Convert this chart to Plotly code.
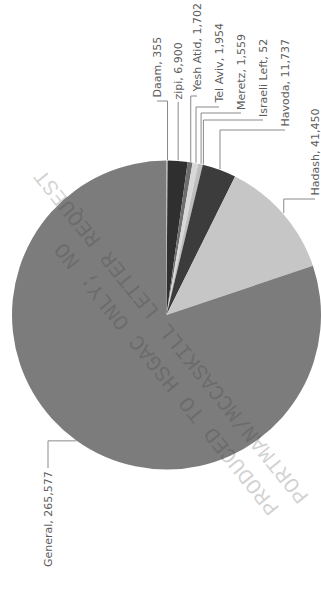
import math
import plotly.graph_objects as go

# ---- data ----
LABELS = ["Daam", "zipi", "Yesh Atid", "Tel Aviv", "Meretz", "Israeli Left",
          "Havoda", "Hadash", "General"]
VALUES = [355, 6900, 1702, 1954, 1559, 52, 11737, 41450, 265577]
VALUE_TEXT = ["355", "6,900", "1,702", "1,954", "1,559", "52", "11,737", "41,450", "265,577"]

# ---- styling / layout (pixels) ----
COLORS = ["#eeeeee", "#2f2f2f", "#6e6e6e", "#d8d8d8", "#bebebe", "#555555",
          "#3c3c3c", "#c6c6c6", "#7c7c7c"]
W, H = 321, 603
CX, CY, R = 167, 315, 155
# column x of each rotated label and y where its text begins (leader end)
LABEL_X = [157, 178, 197, 219, 241, 263, 285, 315, 48]
LABEL_Y = [101, 102, 96, 107, 113, 120, 130, 199, 468]
ELBOW = [None] * 8 + ["h"]

def px(x, y):
    return x / W, 1 - y / H

fig = go.Figure()
fig.add_trace(go.Pie(
    labels=LABELS, values=VALUES, sort=False, direction="clockwise", rotation=0,
    marker=dict(colors=COLORS, line=dict(width=0)),
    textinfo="none", hoverinfo="label+value", showlegend=False,
    domain=dict(x=[(CX - R) / W, min(1, (CX + R) / W)],
                y=[(H - CY - R) / H, (H - CY + R) / H]),
))

total = sum(VALUES)
shapes, annotations = [], []
cum = 0.0
line_style = dict(color="#8a8a8a", width=1)
for i, (lab, v) in enumerate(zip(LABELS, VALUES)):
    mid = (cum + v / 2) / total * 2 * math.pi
    cum += v
    ex = CX + R * math.sin(mid)
    ey = CY - R * math.cos(mid)
    lx, ly = LABEL_X[i], LABEL_Y[i]
    if ELBOW[i] == "h":
        pts = [(ex, ey), (lx, ey), (lx, ly)]
        yanchor = "top"
    else:
        pts = [(ex, ey), (ex, ly), (lx, ly)]
        yanchor = "bottom"
    for (x0, y0), (x1, y1) in zip(pts[:-1], pts[1:]):
        a0, b0 = px(x0, y0)
        a1, b1 = px(x1, y1)
        shapes.append(dict(type="line", xref="paper", yref="paper",
                           x0=a0, y0=b0, x1=a1, y1=b1, line=line_style))
    ax, ay = px(lx, ly + (-1 if yanchor == "bottom" else 1))
    annotations.append(dict(
        text=f"{lab}, {VALUE_TEXT[i]}", xref="paper", yref="paper", x=ax, y=ay,
        xanchor="center", yanchor=yanchor, textangle=-90, showarrow=False,
        font=dict(family="DejaVu Sans, Verdana, sans-serif", size=11, color="#5c5c5c"),
    ))

# scanned watermark text
WM_LINES = ["PRODUCED TO HSGAC ONLY; NO", "PORTMAN/MCCASKILL LETTER REQUEST"]
WM_CENTERS = [(167, 378), (172, 336)]
for t, (x, y) in zip(WM_LINES, WM_CENTERS):
    a, b = px(x, y)
    annotations.append(dict(
        text=t, xref="paper", yref="paper", x=a, y=b, xanchor="center", yanchor="middle",
        textangle=-129, showarrow=False,
        font=dict(family="Liberation Mono, Courier New, monospace", size=22,
                  color="rgba(50,50,50,0.22)"),
    ))

fig.update_layout(
    width=W, height=H, margin=dict(l=0, r=0, t=0, b=0),
    paper_bgcolor="white", plot_bgcolor="white",
    shapes=shapes, annotations=annotations,
)
fig.write_html("out.html")
